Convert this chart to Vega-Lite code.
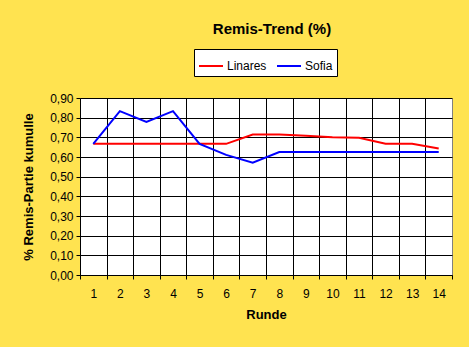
{
  "$schema": "https://vega.github.io/schema/vega-lite/v6.json",
  "width": 372,
  "height": 177,
  "autosize": {"type": "none"},
  "padding": {"left": 80, "top": 98, "right": 17, "bottom": 72},
  "background": "#FFE350",
  "title": {
    "text": "Remis-Trend (%)",
    "font": "Liberation Sans",
    "fontSize": 15,
    "fontWeight": "bold",
    "color": "black",
    "anchor": "middle",
    "dx": 6,
    "offset": 12
  },
  "data": {
    "values": [
      {"runde": 1, "spieler": "Linares", "wert": 0.667},
      {"runde": 2, "spieler": "Linares", "wert": 0.667},
      {"runde": 3, "spieler": "Linares", "wert": 0.667},
      {"runde": 4, "spieler": "Linares", "wert": 0.667},
      {"runde": 5, "spieler": "Linares", "wert": 0.667},
      {"runde": 6, "spieler": "Linares", "wert": 0.667},
      {"runde": 7, "spieler": "Linares", "wert": 0.714},
      {"runde": 8, "spieler": "Linares", "wert": 0.714},
      {"runde": 9, "spieler": "Linares", "wert": 0.708},
      {"runde": 10, "spieler": "Linares", "wert": 0.700},
      {"runde": 11, "spieler": "Linares", "wert": 0.698},
      {"runde": 12, "spieler": "Linares", "wert": 0.667},
      {"runde": 13, "spieler": "Linares", "wert": 0.667},
      {"runde": 14, "spieler": "Linares", "wert": 0.643},
      {"runde": 1, "spieler": "Sofia", "wert": 0.667},
      {"runde": 2, "spieler": "Sofia", "wert": 0.833},
      {"runde": 3, "spieler": "Sofia", "wert": 0.778},
      {"runde": 4, "spieler": "Sofia", "wert": 0.833},
      {"runde": 5, "spieler": "Sofia", "wert": 0.667},
      {"runde": 6, "spieler": "Sofia", "wert": 0.611},
      {"runde": 7, "spieler": "Sofia", "wert": 0.571},
      {"runde": 8, "spieler": "Sofia", "wert": 0.625},
      {"runde": 9, "spieler": "Sofia", "wert": 0.625},
      {"runde": 10, "spieler": "Sofia", "wert": 0.625},
      {"runde": 11, "spieler": "Sofia", "wert": 0.625},
      {"runde": 12, "spieler": "Sofia", "wert": 0.625},
      {"runde": 13, "spieler": "Sofia", "wert": 0.625},
      {"runde": 14, "spieler": "Sofia", "wert": 0.625}
    ]
  },
  "mark": {"type": "line", "strokeWidth": 2},
  "encoding": {
    "x": {
      "field": "runde",
      "type": "quantitative",
      "scale": {"domain": [0.5, 14.5], "nice": false, "zero": false},
      "axis": {
        "values": [0.5, 1, 1.5, 2, 2.5, 3, 3.5, 4, 4.5, 5, 5.5, 6, 6.5, 7, 7.5, 8, 8.5, 9, 9.5, 10, 10.5, 11, 11.5, 12, 12.5, 13, 13.5, 14, 14.5],
        "title": "Runde",
        "labelExpr": "datum.value % 1 === 0 ? datum.value : ''",
        "labelOverlap": false,
        "labelFlush": false,
        "labelBound": false,
        "grid": true,
        "gridColor": {"condition": {"test": "datum.value === 14.5", "value": "#808080"}, "value": "black"},
        "gridOpacity": {"condition": {"test": "datum.value % 1 === 0", "value": 0}, "value": 1},
        "tickOpacity": {"condition": {"test": "datum.value % 1 === 0", "value": 0}, "value": 1},
        "tickSize": 4,
        "labelPadding": 9,
        "titlePadding": 9
      }
    },
    "y": {
      "field": "wert",
      "type": "quantitative",
      "scale": {"domain": [0, 0.9], "nice": false},
      "axis": {
        "values": [0, 0.1, 0.2, 0.3, 0.4, 0.5, 0.6, 0.7, 0.8, 0.9],
        "labelExpr": "replace(format(datum.value, '.2f'), '.', ',')",
        "title": "% Remis-Partie kumulle",
        "grid": true,
        "gridColor": "black",
        "tickSize": 4,
        "labelPadding": 3,
        "titlePadding": 14
      }
    },
    "color": {
      "field": "spieler",
      "type": "nominal",
      "scale": {"domain": ["Linares", "Sofia"], "range": ["#FF0000", "#0000FF"]},
      "legend": {
        "orient": "none",
        "legendX": 114,
        "legendY": -49,
        "direction": "horizontal",
        "title": null,
        "fillColor": "white",
        "strokeColor": "black",
        "padding": 4,
        "symbolType": "stroke",
        "symbolSize": 576,
        "symbolStrokeWidth": 2,
        "labelFont": "Liberation Sans",
        "labelFontSize": 12,
        "labelColor": "black",
        "labelOffset": 3,
        "columnPadding": 6
      }
    }
  },
  "config": {
    "view": {"stroke": null, "fill": "white"},
    "axis": {
      "labelFont": "Liberation Sans",
      "labelFontSize": 12,
      "labelColor": "black",
      "titleFont": "Liberation Sans",
      "titleFontSize": 13,
      "titleFontWeight": "bold",
      "titleColor": "black",
      "domainColor": "black",
      "tickColor": "black",
      "gridWidth": 1,
      "domainWidth": 1,
      "tickWidth": 1
    }
  }
}
